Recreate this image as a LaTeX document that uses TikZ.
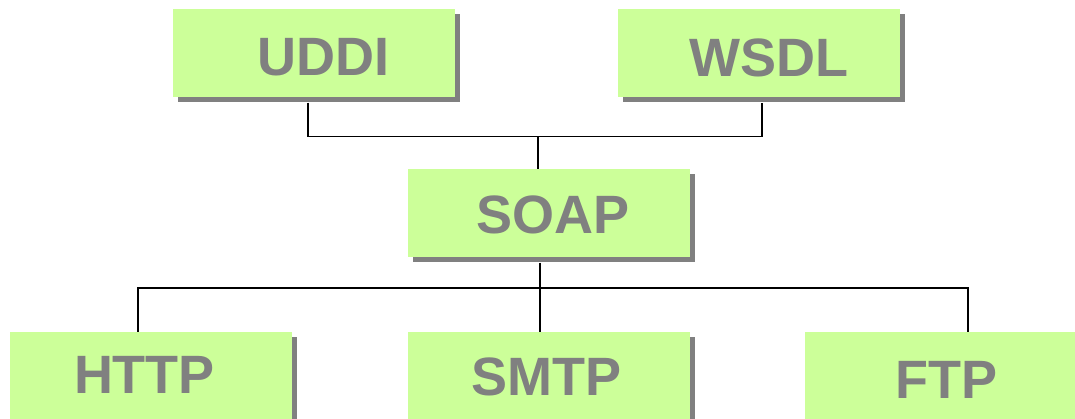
\documentclass[tikz,border=0pt]{standalone}
\usepackage{fontspec}
\setmainfont{Liberation Sans}
\usetikzlibrary{shadows}
\definecolor{boxgreen}{HTML}{CCFF99}
\definecolor{shadowgray}{HTML}{808080}
\definecolor{textgray}{HTML}{808080}
\tikzset{
  box/.style={fill=boxgreen, minimum width=282pt, minimum height=88pt, inner sep=0pt,
    drop shadow={shadow xshift=5pt, shadow yshift=-5pt, fill=shadowgray, opacity=1}},
  lbl/.style={text=textgray, font=\fontsize{54}{60}\selectfont\bfseries, inner sep=0pt},
  conn/.style={draw=black, line width=1.2pt}
}
\begin{document}
\begin{tikzpicture}[x=1pt,y=-1pt]
\useasboundingbox (0,0) rectangle (1075,419);
\clip (0,0) rectangle (1075,419);
\fill[white] (0,0) rectangle (1075,419);
\node[box, label={[lbl, xshift=9.5pt, yshift=-4pt]center:UDDI}] (uddi) at (314,53.5) {};
\node[box, label={[lbl, xshift=9.5pt, yshift=-4pt]center:WSDL}] (wsdl) at (759,53.5) {};
\node[box, label={[lbl, xshift=4pt, yshift=-1pt]center:SOAP}] (soap) at (549,213.5) {};
\node[box, label={[lbl, xshift=-6.5pt, yshift=1pt]center:HTTP}] (http) at (151,376) {};
\node[box, label={[lbl, xshift=-3pt, yshift=-1pt]center:SMTP}] (smtp) at (549,376) {};
\node[box, label={[lbl, xshift=0pt, yshift=-4pt]center:FTP}] (ftp) at (946,376) {};
\coordinate (j1) at (538,136.5);
\coordinate (j2) at (540,288);
\draw[conn] ([xshift=-6pt,yshift=-5pt]uddi.south) |- (j1) -| ([xshift=3pt,yshift=-5pt]wsdl.south);
\draw[conn] (j1) -- (soap.north -| j1);
\draw[conn] ([yshift=-5pt]soap.south -| j2) -- (smtp.north -| j2);
\draw[conn] ([xshift=-13pt]http.north) |- (j2) -| ([xshift=22pt]ftp.north);
\end{tikzpicture}
\end{document}
